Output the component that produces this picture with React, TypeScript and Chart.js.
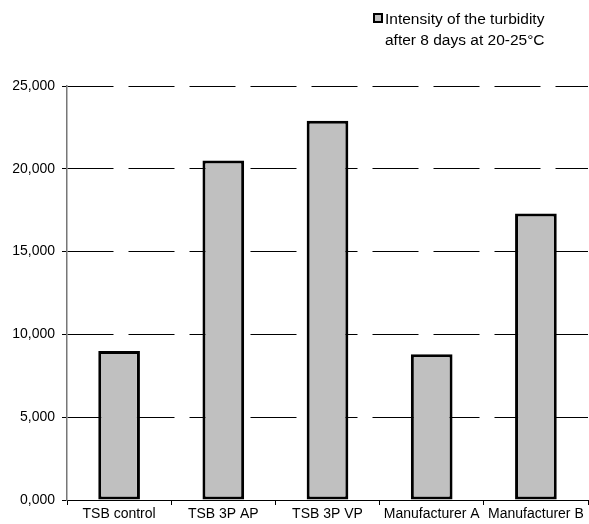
import { useEffect, useRef } from 'react';
import { Chart, registerables } from 'chart.js';

Chart.register(...registerables);

const categories = ['TSB control', 'TSB 3P AP', 'TSB 3P VP', 'Manufacturer A', 'Manufacturer B'];
const turbidity = [9000, 20500, 22900, 8800, 17300];
const yMax = 25000;
const yStep = 5000;
const legendLines = ['Intensity of the turbidity', 'after 8 days at 20-25°C'];

const FONT = "'Liberation Sans', Arial, sans-serif";

// "25,000" style labels, zero shown as "0,000"
const fmt = (v: number) => `${Math.floor(v / 1000)},${String(v % 1000).padStart(3, '0')}`;

const legendPlugin = {
  id: 'turbidityLegend',
  afterDraw(chart: any) {
    const ctx = chart.ctx;
    ctx.save();
    ctx.fillStyle = '#c0c0c0';
    ctx.strokeStyle = '#000';
    ctx.lineWidth = 2;
    ctx.fillRect(374, 14, 8, 8);
    ctx.strokeRect(374, 14, 8, 8);
    ctx.fillStyle = '#000';
    ctx.font = `15.5px ${FONT}`;
    ctx.textBaseline = 'alphabetic';
    ctx.textAlign = 'left';
    ctx.fillText(legendLines[0], 385, 24);
    ctx.fillText(legendLines[1], 385, 45);
    ctx.restore();
  },
};

export default function App() {
  const ref = useRef<HTMLCanvasElement>(null);

  useEffect(() => {
    if (!ref.current) return;
    const chart = new Chart(ref.current, {
      type: 'bar',
      data: {
        labels: categories,
        datasets: [
          {
            label: legendLines.join(' '),
            data: turbidity,
            backgroundColor: '#c0c0c0',
            borderColor: '#000',
            borderWidth: 3,
            borderSkipped: false,
            barPercentage: 0.4,
            categoryPercentage: 1,
          },
        ],
      },
      options: {
        responsive: false,
        animation: false,
        layout: { padding: { top: 86, right: 1, left: 0, bottom: 0 } },
        plugins: { legend: { display: false }, tooltip: { enabled: false } },
        scales: {
          x: {
            offset: true,
            grid: {
              offset: true,
              drawOnChartArea: false,
              drawTicks: true,
              tickLength: 5,
              tickColor: '#000',
            },
            border: { display: true, color: '#000', width: 1 },
            ticks: {
              color: '#000',
              padding: 1,
              maxRotation: 0,
              autoSkip: false,
              font: { family: FONT, size: 14 },
            },
            afterFit: (s: any) => {
              s.height = 24;
            },
          },
          y: {
            min: 0,
            max: yMax,
            grid: {
              color: '#000',
              lineWidth: 1,
              tickLength: 5,
              tickColor: '#000',
              tickBorderDash: [],
            },
            // dash pattern of the horizontal gridlines
            border: { display: true, color: '#777', width: 1.5, dash: [46, 15] },
            ticks: {
              stepSize: yStep,
              color: '#000',
              padding: 7,
              font: { family: FONT, size: 14 },
              callback: (v: any) => fmt(Number(v)),
            },
            afterFit: (s: any) => {
              s.width = 67;
            },
          },
        },
      },
      plugins: [legendPlugin],
    });
    return () => chart.destroy();
  }, []);

  return (
    <div style={{ position: 'absolute', left: 0, top: 0, width: 589, height: 524, background: '#fff' }}>
      <canvas ref={ref} width={589} height={524} />
    </div>
  );
}
